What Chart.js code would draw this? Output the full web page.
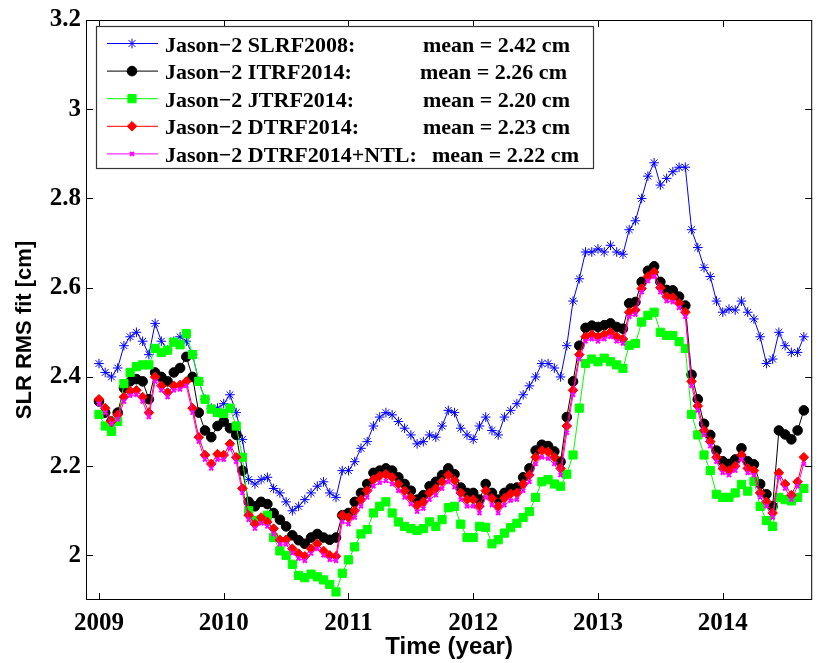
<!DOCTYPE html>
<html><head><meta charset="utf-8">
<script src="https://cdn.jsdelivr.net/npm/chart.js@4.4.0/dist/chart.umd.min.js"></script>
<style>html,body{margin:0;padding:0;background:#fff;} #wrap{width:819px;height:663px;}</style>
</head><body><div id="wrap"><canvas id="c" width="819" height="663"></canvas></div>
<script>
// ---- Data ----
const times = [
 2009.00,2009.05,2009.10,2009.15,2009.20,2009.25,2009.30,2009.35,2009.40,2009.45,
 2009.50,2009.55,2009.60,2009.65,2009.70,2009.75,2009.80,2009.85,2009.90,2009.95,
 2010.00,2010.05,2010.10,2010.15,2010.20,2010.25,2010.30,2010.35,2010.40,2010.45,
 2010.50,2010.55,2010.60,2010.65,2010.70,2010.75,2010.80,2010.85,2010.90,2010.95,
 2011.00,2011.05,2011.10,2011.15,2011.20,2011.25,2011.30,2011.35,2011.40,2011.45,
 2011.50,2011.55,2011.60,2011.65,2011.70,2011.75,2011.80,2011.85,2011.90,2011.95,
 2012.00,2012.05,2012.10,2012.15,2012.20,2012.25,2012.30,2012.35,2012.40,2012.45,
 2012.50,2012.55,2012.60,2012.65,2012.70,2012.75,2012.80,2012.85,2012.90,2012.95,
 2013.00,2013.05,2013.10,2013.15,2013.20,2013.25,2013.30,2013.35,2013.40,2013.45,
 2013.50,2013.55,2013.60,2013.65,2013.70,2013.75,2013.80,2013.85,2013.90,2013.95,
 2014.00,2014.05,2014.10,2014.15,2014.20,2014.25,2014.30,2014.35,2014.40,2014.45,
 2014.50,2014.55,2014.60,2014.65
];
const slrf2008 = [
 2.43,2.41,2.40,2.42,2.47,2.49,2.50,2.48,2.45,2.52,
 2.48,2.46,2.48,2.49,2.48,2.45,2.39,2.35,2.33,2.33,
 2.34,2.36,2.32,2.26,2.17,2.16,2.17,2.175,2.15,2.14,
 2.12,2.10,2.11,2.125,2.14,2.155,2.165,2.14,2.13,2.19,
 2.19,2.21,2.24,2.255,2.29,2.31,2.32,2.315,2.30,2.285,
 2.27,2.25,2.255,2.27,2.265,2.29,2.325,2.32,2.285,2.27,
 2.26,2.29,2.31,2.28,2.27,2.31,2.325,2.34,2.36,2.38,
 2.40,2.43,2.43,2.42,2.40,2.47,2.57,2.62,2.68,2.68,
 2.687,2.68,2.695,2.68,2.675,2.73,2.75,2.80,2.85,2.88,
 2.83,2.845,2.86,2.87,2.87,2.73,2.69,2.645,2.625,2.57,
 2.545,2.552,2.55,2.57,2.545,2.53,2.49,2.43,2.44,2.50,
 2.47,2.455,2.455,2.49
];
const itrf2014 = [
 2.345,2.32,2.30,2.32,2.375,2.39,2.395,2.39,2.35,2.41,
 2.40,2.39,2.41,2.42,2.445,2.40,2.32,2.28,2.265,2.29,
 2.30,2.285,2.27,2.19,2.12,2.11,2.12,2.115,2.095,2.08,
 2.065,2.045,2.034,2.026,2.04,2.048,2.04,2.035,2.04,2.09,
 2.095,2.12,2.14,2.16,2.185,2.19,2.195,2.19,2.175,2.16,
 2.145,2.125,2.135,2.155,2.165,2.18,2.195,2.182,2.152,2.14,
 2.14,2.125,2.16,2.14,2.125,2.14,2.15,2.152,2.175,2.195,
 2.235,2.248,2.245,2.233,2.21,2.31,2.39,2.47,2.51,2.515,
 2.512,2.516,2.52,2.512,2.508,2.565,2.568,2.613,2.638,2.648,
 2.613,2.595,2.594,2.58,2.56,2.405,2.35,2.295,2.27,2.235,
 2.211,2.205,2.215,2.24,2.211,2.204,2.16,2.137,2.11,2.28,
 2.271,2.26,2.28,2.325
];
const jtrf2014 = [
 2.316,2.29,2.278,2.30,2.385,2.41,2.423,2.427,2.427,2.464,
 2.455,2.46,2.478,2.472,2.497,2.45,2.39,2.35,2.328,2.32,
 2.318,2.33,2.29,2.22,2.10,2.078,2.08,2.09,2.04,2.01,
 2.00,1.98,1.955,1.95,1.958,1.952,1.945,1.935,1.918,1.96,
 1.99,2.019,2.048,2.058,2.095,2.11,2.12,2.095,2.075,2.065,
 2.06,2.056,2.06,2.075,2.065,2.08,2.107,2.11,2.07,2.04,
 2.04,2.065,2.063,2.026,2.035,2.05,2.062,2.072,2.085,2.098,
 2.13,2.165,2.17,2.16,2.155,2.182,2.225,2.33,2.43,2.44,
 2.434,2.442,2.434,2.427,2.419,2.471,2.475,2.523,2.538,2.545,
 2.50,2.493,2.493,2.479,2.464,2.316,2.27,2.225,2.19,2.137,
 2.13,2.13,2.14,2.159,2.144,2.166,2.11,2.078,2.065,2.13,
 2.125,2.122,2.13,2.15
];
const dtrf2014 = [
 2.35,2.33,2.30,2.315,2.355,2.368,2.37,2.355,2.32,2.40,
 2.38,2.365,2.38,2.382,2.39,2.33,2.265,2.225,2.205,2.227,
 2.225,2.25,2.22,2.15,2.09,2.07,2.085,2.075,2.06,2.035,
 2.035,2.015,2.004,1.998,2.015,2.026,2.01,2.0,1.998,2.09,
 2.085,2.10,2.125,2.145,2.17,2.178,2.182,2.175,2.16,2.145,
 2.13,2.112,2.12,2.14,2.15,2.165,2.18,2.168,2.14,2.125,
 2.125,2.11,2.145,2.128,2.11,2.128,2.138,2.14,2.16,2.18,
 2.22,2.235,2.232,2.22,2.195,2.29,2.37,2.45,2.49,2.495,
 2.49,2.495,2.50,2.49,2.485,2.545,2.55,2.598,2.625,2.635,
 2.60,2.58,2.578,2.565,2.545,2.39,2.335,2.28,2.255,2.22,
 2.195,2.19,2.2,2.225,2.195,2.19,2.14,2.12,2.095,2.185,
 2.16,2.135,2.165,2.22
];
const dtrf2014ntl = [
 2.34,2.32,2.295,2.305,2.345,2.358,2.36,2.345,2.31,2.39,
 2.37,2.355,2.37,2.372,2.38,2.32,2.255,2.215,2.195,2.215,
 2.215,2.24,2.21,2.14,2.08,2.06,2.072,2.065,2.048,2.025,
 2.025,2.005,1.993,1.988,2.004,2.015,2.0,1.99,1.988,2.075,
 2.07,2.085,2.11,2.13,2.155,2.163,2.167,2.16,2.145,2.13,
 2.115,2.098,2.105,2.125,2.135,2.15,2.165,2.153,2.125,2.11,
 2.11,2.095,2.13,2.113,2.095,2.113,2.123,2.125,2.145,2.165,
 2.205,2.22,2.217,2.205,2.18,2.275,2.36,2.44,2.48,2.485,
 2.48,2.485,2.49,2.48,2.475,2.535,2.54,2.59,2.615,2.625,
 2.59,2.57,2.568,2.555,2.535,2.38,2.325,2.27,2.245,2.21,
 2.185,2.18,2.19,2.215,2.185,2.18,2.13,2.11,2.085,2.175,
 2.15,2.125,2.155,2.205
];
const xTickYears = [2009, 2010, 2011, 2012, 2013, 2014];
const yTickValues = [2.0, 2.2, 2.4, 2.6, 2.8, 3.0, 3.2];
const seriesNames = ['Jason\u22122 SLRF2008:', 'Jason\u22122 ITRF2014:', 'Jason\u22122 JTRF2014:', 'Jason\u22122 DTRF2014:', 'Jason\u22122 DTRF2014+NTL:'];
const seriesMeans = ['mean = 2.42 cm', 'mean = 2.26 cm', 'mean = 2.20 cm', 'mean = 2.23 cm', 'mean = 2.22 cm'];
const xTitle = 'Time (year)';
const yTitle = 'SLR RMS fit [cm]';

// ---- styles ----
const styles = [
  {color: 'rgb(0,0,255)',   pointStyle: 'star',    radius: 4.8, bw: 1,   order: 5},
  {color: 'rgb(0,0,0)',     pointStyle: 'circle',  radius: 4.8, bw: 1,   order: 4},
  {color: 'rgb(0,255,0)',   pointStyle: 'rect',    radius: 5.8, bw: 1,   order: 3},
  {color: 'rgb(255,0,0)',   pointStyle: 'rectRot', radius: 4.8, bw: 1,   order: 2},
  {color: 'rgb(255,0,255)', pointStyle: 'crossRot',radius: 2.8, bw: 2,   order: 1}
];
const seriesValues = [slrf2008, itrf2014, jtrf2014, dtrf2014, dtrf2014ntl];

const datasets = seriesValues.map((vals, k) => ({
  label: seriesNames[k],
  data: vals.map((v, i) => ({x: times[i], y: v})),
  borderColor: styles[k].color,
  backgroundColor: styles[k].color,
  borderWidth: 1,
  pointStyle: styles[k].pointStyle,
  pointRadius: styles[k].radius,
  pointBorderWidth: styles[k].bw,
  pointBackgroundColor: styles[k].color,
  pointBorderColor: styles[k].color,
  tension: 0,
  order: styles[k].order
}));

const framePlugin = {
  id: 'frame',
  afterDatasetsDraw(chart) {
    const {ctx, chartArea: {left, right, top, bottom}, scales: {x, y}} = chart;
    ctx.save();
    ctx.strokeStyle = '#000';
    ctx.lineWidth = 1;
    ctx.strokeRect(left + 0.5, top + 0.5, right - left - 1, bottom - top - 1);
    ctx.beginPath();
    const tl = 7;
    xTickYears.forEach(v => {
      const px = Math.round(x.getPixelForValue(v)) + 0.5;
      ctx.moveTo(px, bottom); ctx.lineTo(px, bottom - tl);
      ctx.moveTo(px, top); ctx.lineTo(px, top + tl);
    });
    yTickValues.forEach(v => {
      const py = Math.round(y.getPixelForValue(v)) + 0.5;
      ctx.moveTo(left, py); ctx.lineTo(left + tl, py);
      ctx.moveTo(right, py); ctx.lineTo(right - tl, py);
    });
    ctx.stroke();
    // y axis title
    ctx.save();
    ctx.translate(25, 330);
    ctx.rotate(-Math.PI / 2);
    ctx.fillStyle = '#000';
    ctx.font = 'bold 22px "Liberation Sans", Arial, Helvetica, sans-serif';
    ctx.textAlign = 'center';
    ctx.textBaseline = 'middle';
    ctx.fillText(yTitle, 0, 0);
    ctx.restore();
    ctx.restore();
  }
};

const legendPlugin = {
  id: 'boxLegend',
  afterDraw(chart) {
    const ctx = chart.ctx;
    ctx.save();
    const bx = 96, by = 26, bw = 497, bh = 142;
    ctx.fillStyle = '#fff';
    ctx.fillRect(bx, by, bw, bh);
    ctx.strokeStyle = '#333';
    ctx.lineWidth = 1.2;
    ctx.strokeRect(bx + 0.5, by + 0.5, bw, bh);
    const meanX = [423, 420, 423, 423, 432];
    for (let k = 0; k < seriesNames.length; k++) {
      const cy = 43.5 + k * 27.6;
      ctx.strokeStyle = styles[k].color;
      ctx.lineWidth = 1;
      ctx.beginPath(); ctx.moveTo(107, cy); ctx.lineTo(158, cy); ctx.stroke();
      ctx.fillStyle = styles[k].color;
      ctx.lineWidth = styles[k].bw;
      Chart.helpers.drawPoint(ctx, {pointStyle: styles[k].pointStyle, radius: styles[k].radius, rotation: 0, borderWidth: styles[k].bw}, 132, cy);
      ctx.fillStyle = '#000';
      ctx.font = 'bold 22px "Liberation Serif", "Times New Roman", serif';
      ctx.textBaseline = 'alphabetic';
      ctx.textAlign = 'left';
      ctx.fillText(seriesNames[k], 165, cy + 8);
      ctx.fillText(seriesMeans[k], meanX[k], cy + 8);
    }
    ctx.restore();
  }
};

const tickFont = {family: '"Liberation Serif", "Times New Roman", serif', size: 25, weight: 'bold'};
const titleFont = {family: '"Liberation Sans", Arial, Helvetica, sans-serif', size: 24, weight: 'bold'};

new Chart(document.getElementById('c'), {
  type: 'line',
  data: {datasets},
  options: {
    responsive: false,
    animation: false,
    devicePixelRatio: 1,
    layout: {padding: {left: 0, right: 2, top: 16, bottom: 0}},
    plugins: {legend: {display: false}, tooltip: {enabled: false}},
    scales: {
      x: {
        type: 'linear',
        min: 2008.896,
        max: 2014.717,
        grid: {display: false, drawTicks: false},
        border: {display: false},
        afterBuildTicks: s => { s.ticks = xTickYears.map(v => ({value: v})); },
        afterFit: s => { s.height = 63; },
        ticks: {color: '#000', font: tickFont, padding: 9, maxRotation: 0, callback: v => String(v)},
        title: {display: true, text: xTitle, color: '#000', font: titleFont, padding: {top: 0, bottom: 1}}
      },
      y: {
        type: 'linear',
        min: 1.9,
        max: 3.2,
        grid: {display: false, drawTicks: false},
        border: {display: false},
        afterBuildTicks: s => { s.ticks = yTickValues.map(v => ({value: v})); },
        afterFit: s => { s.width = 86; },
        ticks: {color: '#000', font: tickFont, padding: 5, callback: v => String(Number(v.toFixed(1)))},
        title: {display: false}
      }
    }
  },
  plugins: [framePlugin, legendPlugin]
});
</script>
</body></html>
